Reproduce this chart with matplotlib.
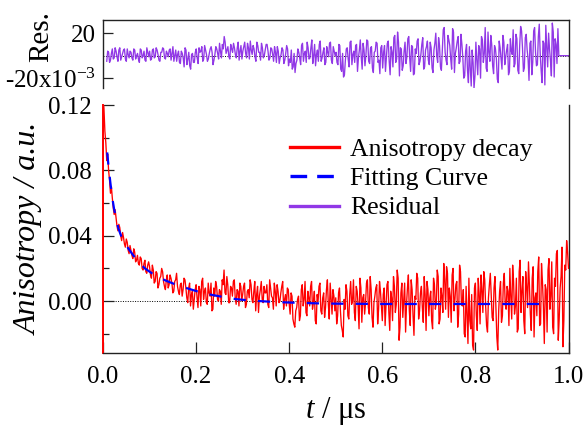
import numpy as np
import matplotlib
matplotlib.use('Agg')
import matplotlib.pyplot as plt
from matplotlib.lines import Line2D
from matplotlib.ticker import MultipleLocator, FormatStrFormatter, FixedLocator

plt.rcParams['font.family'] = ['Liberation Serif', 'DejaVu Serif']
plt.rcParams['mathtext.fontset'] = 'custom'
plt.rcParams['mathtext.rm'] = 'Liberation Serif'
plt.rcParams['mathtext.it'] = 'Liberation Serif:italic'

# time grid of the trace (us), 2 ns steps; values given as even / odd samples
t_step = 0.002
n_pts = 501

# anisotropy decay, units of 1e-3 (pre-trigger point at t=0 comes first)
anis_pre = -45
anis_even = [
    125, 104, 86, 80, 66, 63, 53, 51, 43, 45, 37, 39, 33, 36, 29, 31, 26, 30, 25, 23, 27, 20, 23, 18, 22,
    21, 14, 19, 12, 17, 10, 15, 18, 9, 13, 8, 16, 11, 6, 13, 9, 4, 11, 7, 13, 2, 8, -3, 6, 1,
    10, -4, 7, 12, 1, 8, -2, 5, 11, -5, 3, 9, 0, 6, 13, 19, 4, 10, -1, 8, 12, 2, 7, -3, 9,
    4, 11, -2, 7, 13, 1, 6, -6, 9, 3, 12, -1, 5, 10, -4, 8, 2, 11, -3, 6, 0, 9, -5, 4, 8,
    -2, 5, -11, -16, -4, 3, -9, 10, 1, -7, 6, -3, 12, -1, -12, 4, 9, -6, 2, -10, 7, -2, 11, -8, 3,
    2, -9, 8, -15, -22, -5, 6, -11, 12, 0, -7, 9, -3, 14, -13, 4, -1, 13, -8, 7, -16, 3, 10, -5, 6,
    -12, 8, -3, 12, -18, 2, 15, -7, 19, -24, 5, -10, 11, -2, 16, -15, 7, -21, 1, 14, -6, 9, -13, 4, 12,
    -9, 6, -17, 10, -1, 15, -11, 3, 23, -5, 17, 8, -13, 20, 1, 12, -8, 18, -3, -20, 9, -26, -12, 4, -30,
    11, -18, 5, 16, -7, 13, -15, 2, 17, -10, 8, -4, -30, 6, -13, 11, -2, 9, -15, 3, 22, -8, 14, -17, 25,
    6, -12, 18, -4, 10, -18, 21, 2, -9, 27, -14, 12, -26, 7, 19, -5, 24, -20, 9, 31, -11, 15, -28, 22, 37,
    20,
]
anis_odd = [
    118, 97, 90, 74, 70, 57, 56, 46, 47, 40, 42, 35, 38, 31, 34, 28, 32, 24, 28, 22, 26, 19, 25, 17, 24,
    16, 22, 11, 18, 8, 14, 20, 12, 7, 16, 10, 14, 5, 12, 17, 6, 10, 3, 14, 8, -1, 11, 4, -5, 7,
    2, 9, -3, 14, 6, -1, 11, 3, -6, 8, 12, 1, 7, -2, 10, 5, 15, -1, 9, 3, 13, -2, 6, 11, 0,
    9, -4, 6, 2, 10, -1, 12, 4, -7, 7, 1, 9, 5, -2, 13, 3, -5, 6, 10, -1, 5, 12, 1, -3, 7,
    -8, 3, -14, -6, 1, -12, 7, -3, 12, -9, 2, 9, -5, 6, -14, 0, 11, -8, 5, -4, 13, -11, 1, 7, -6,
    -14, 5, -6, -18, 1, 10, -9, 4, -2, 13, -12, 6, -17, 8, 2, -8, 11, -4, 15, -10, -1, 8, -14, 12, -3,
    4, -15, 10, -7, 6, -12, 9, -2, 14, -16, 11, 0, -19, 8, -6, 13, -9, 3, 17, -11, 5, -4, 15, -18, 7,
    2, -12, 14, -5, 19, -14, 8, -7, 13, 21, -10, 3, 16, -6, 10, -16, 22, -2, 7, -22, -8, 14, -17, -27, 8,
    -9, 14, -14, 7, 18, -3, -19, 10, 4, -12, 15, -22, -6, 12, -9, 17, -5, 6, 20, -11, 12, -3, -19, 18, -7,
    15, -20, 9, 24, -8, 14, -22, 5, 18, -15, 23, -3, 10, -19, 26, 3, -16, 14, 29, -24, 8, 33, -12, 19, 30,
]

# residual, units of 1e-3 (nan before the fit starts, flat 0 after it ends)
resid_even = [
    np.nan, np.nan, -5, 3, -4, 6, -2, 4, -5, 7, -1, 5, -3, 6, -2, 3, -4, 5, 0, -3, 6, -2, 4, -5, 3,
    4, -3, 6, -1, 5, -4, 3, 7, -2, 4, -1, 6, 2, -5, 5, 1, -6, 4, -2, 7, -8, 3, -12, 2, -6,
    6, -7, 3, 8, -3, 5, -5, 2, 8, -8, 1, 6, -3, 4, 10, 17, 2, 8, -3, 6, 11, 1, 7, -4, 9,
    4, 12, -2, 7, 13, 1, 6, -5, 9, 3, 11, -2, 5, 10, -4, 7, 1, 8, -6, 4, -2, 7, -7, 2, 6,
    -3, 5, -10, -15, -4, 3, -8, 11, 2, -6, 7, -2, 14, 0, -9, 5, 10, -5, 3, -8, 8, -1, 12, -7, 4,
    3, -8, 9, -14, -19, -4, 7, -10, 13, 1, -6, 10, -2, 14, -12, 5, 0, 13, -7, 8, -15, 4, 11, -4, 7,
    -11, 9, -2, 13, -17, 3, 16, -6, 21, -18, 6, -9, 12, -1, 17, -14, 8, -16, 2, 15, -5, 10, -12, 5, 13,
    -8, 7, -15, 11, 0, 16, -10, 4, 25, -4, 18, 9, -12, 21, 2, 13, -7, 19, -2, -18, 10, -24, -11, 5, -29,
    12, -17, 6, 17, -6, 25, -14, 3, 18, -9, 9, -3, -24, 7, -12, 12, -1, 10, -14, 4, 23, -7, 15, -16, 26,
    7, -11, 19, -3, 11, -17, 22, 3, -8, 28, -13, 13, -26, 8, 20, -4, 29, -19, 10, 24, 0, 0, 0, 0, 0,
    0,
]
resid_odd = [
    np.nan, np.nan, 4, -6, 2, -3, 7, -1, 5, -4, 2, 6, -5, 1, 4, -2, 6, -3, 2, -6, 5, 0, -4, 7, -1,
    -4, 5, -2, 7, 1, -5, 3, 6, -3, 2, 5, -4, 8, 0, -5, 4, -7, 2, -10, 5, -3, -9, 1, -6, 3,
    -2, 7, 4, -5, 9, 1, -3, 6, 3, -4, 8, 2, 11, -2, 6, 12, 5, -1, 10, 3, 7, -2, 12, 4, -3,
    8, 2, 11, -3, 5, 9, -1, 12, 3, -4, 7, 0, 10, 4, -2, 6, -5, 3, 8, -7, 1, 5, -4, 9, -9,
    -6, -12, 2, -7, 6, -2, 9, -5, 4, 12, -3, 7, -7, 10, 1, -5, 13, -2, 7, -6, 3, 11, -4, 8, 0,
    -6, 10, -12, 2, -17, 6, -3, 12, -8, 4, 9, -14, 5, -1, 11, -9, 14, -5, 7, -11, 3, 12, -6, -16, 9,
    3, -14, 11, -5, 8, -10, 18, -3, 12, 7, -13, 4, -7, 15, -2, 9, -17, 6, 13, -8, 1, 16, -10, 8, -4,
    12, -11, 5, 20, -6, 9, -13, 23, 3, -8, 14, -3, 24, -15, 7, 17, -5, 10, -20, 4, -13, 8, -27, -6, -18,
    -4, 9, -20, 14, 2, -11, 21, -5, 10, -16, 6, -21, 13, -2, 18, -8, 5, -17, 15, 1, -10, 19, -13, 9, 22,
    -14, 16, 5, -22, 13, -6, 25, -9, 17, 2, -24, 11, 27, -10, 6, -18, 21, 15, -7, 0, 0, 0, 0, 0, 0,
]

# fitting curve, units of 1e-3
fit_t = [0.009, 0.012, 0.016, 0.020, 0.024, 0.028, 0.033, 0.040, 0.048, 0.056,
         0.065, 0.075, 0.090, 0.105, 0.120, 0.135, 0.150, 0.170, 0.190, 0.210,
         0.235, 0.260, 0.285, 0.310, 0.335, 0.360, 0.390, 0.420, 0.460, 0.500,
         0.550, 0.600, 0.700, 0.800, 0.900, 0.960]
fit_v = [91, 82, 72, 63, 56, 51, 44.5, 39, 35, 31.5,
         28, 24.5, 20, 17, 14.5, 12.5, 10.8, 8.8, 7, 5.3,
         3.7, 2.4, 1.2, 0.5, 0, -0.4, -0.8, -1.1, -1.4, -1.6,
         -1.7, -1.8, -1.8, -1.8, -1.8, -1.8]

t = np.arange(n_pts) * t_step
anis = np.empty(n_pts)
anis[0::2] = anis_even
anis[1::2] = anis_odd
resid = np.empty(n_pts)
resid[0::2] = resid_even
resid[1::2] = resid_odd

anis_t = np.concatenate([[0.0], t])
anis_y = np.concatenate([[anis_pre], anis]) * 1e-3
resid_y = resid * 1e-3
fit_y = np.array(fit_v) * 1e-3

red = '#ff0000'
blue = '#0000ff'
purple = '#9138e6'
dark = '#222222'

fig = plt.figure(figsize=(5.87, 4.28), dpi=100)
ax = fig.add_axes([0.1755, 0.1745, 0.793, 0.580])
axr = fig.add_axes([0.1755, 0.794, 0.794, 0.159])

# main panel
ax.axhline(0, color='k', lw=0.7, ls=(0, (1, 1.5)), zorder=1)
ax.plot(anis_t, anis_y, color=red, lw=0.95, zorder=3)
ax.plot(fit_t, fit_y, color=blue, lw=1.6, ls=(0, (5.5, 5.5)), zorder=4)
ax.set_xlim(0, 1.0)
ax.set_ylim(-0.032, 0.12)
ax.xaxis.set_major_locator(MultipleLocator(0.2))
ax.xaxis.set_major_formatter(FormatStrFormatter('%.1f'))
ax.yaxis.set_major_locator(MultipleLocator(0.04))
ax.yaxis.set_minor_locator(MultipleLocator(0.02))
ax.yaxis.set_major_formatter(FormatStrFormatter('%.2f'))
ax.spines['top'].set_visible(False)
for s in ['left', 'bottom', 'right']:
    ax.spines[s].set_linewidth(1.0)
    ax.spines[s].set_color(dark)
ax.spines['left'].set_color(red)
ax.spines['left'].set_linewidth(1.4)
ax.tick_params(axis='both', which='major', direction='in', length=8, width=0.9,
               labelsize=18, color=dark)
ax.tick_params(axis='y', which='major', pad=8)
ax.tick_params(axis='x', which='major', pad=9)
ax.tick_params(axis='y', which='minor', direction='in', length=4.5, width=0.9, color=dark)
ax.set_ylabel('Anisotropy / a.u.', fontsize=23, fontstyle='italic')
ax.yaxis.set_label_coords(-0.127, 0.50)
ax.set_xlabel('$t$ / \u03bcs', fontsize=22, labelpad=5)

handles = [Line2D([], [], color=red, lw=2.4),
           Line2D([], [], color=blue, lw=2.4, ls=(0, (5, 3))),
           Line2D([], [], color=purple, lw=2.4)]
ax.legend(handles, ['Anisotropy decay', 'Fitting Curve', 'Residual'],
          loc='upper right', bbox_to_anchor=(0.945, 0.91), frameon=False,
          fontsize=18.5, handlelength=1.9, handletextpad=0.45, labelspacing=0.25,
          borderaxespad=0)

# residual panel
axr.axhline(0, color='k', lw=0.7, ls=(0, (1, 1.5)), zorder=1)
axr.plot(t, resid_y, color=purple, lw=0.95, zorder=2)
axr.set_xlim(0, 1.0)
axr.set_ylim(-0.0289, 0.0316)
axr.yaxis.set_major_locator(FixedLocator([-0.02, 0.02]))
axr.set_yticklabels(['-20x10$^{-3}$', '20'])
axr.spines['bottom'].set_visible(False)
for s in ['left', 'top', 'right']:
    axr.spines[s].set_linewidth(1.0)
    axr.spines[s].set_color(dark)
axr.tick_params(axis='x', bottom=False, labelbottom=False)
axr.tick_params(axis='y', direction='in', length=7, width=0.9, labelsize=18,
                pad=5, color=dark)
axr.set_ylabel('Res.', fontsize=21)
axr.yaxis.set_label_coords(-0.105, 0.76)

fig.savefig('out.png', dpi=100)
